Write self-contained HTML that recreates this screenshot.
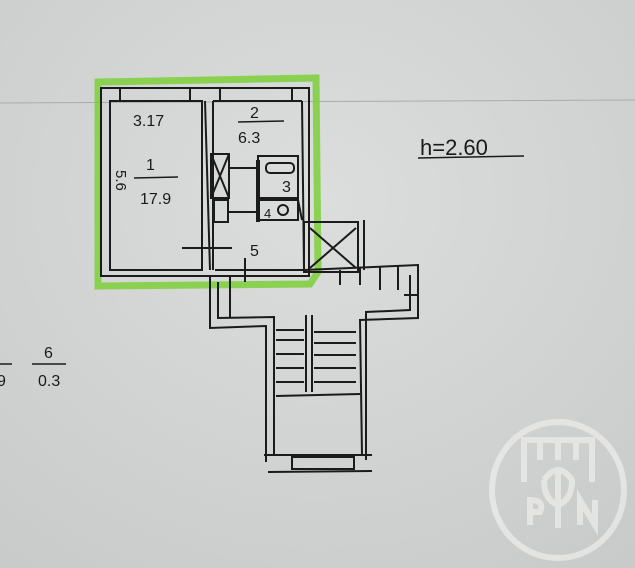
<!DOCTYPE html>
<html><head><meta charset="utf-8"><style>
html,body{margin:0;padding:0;width:635px;height:568px;overflow:hidden;background:#d4d6d6}
svg{display:block}
text{font-family:"Liberation Sans",sans-serif;fill:#1a1a1a}
</style></head><body>
<svg width="635" height="568" viewBox="0 0 635 568">
<defs>
<radialGradient id="bg" cx="0.5" cy="0.35" r="0.8">
<stop offset="0" stop-color="#dcdedd"/><stop offset="1" stop-color="#c9cbcb"/>
</radialGradient>
</defs>
<rect width="635" height="568" fill="url(#bg)"/>
<line x1="0" y1="103" x2="635" y2="100" stroke="#aaa" stroke-width="1"/>
<!-- green outline -->
<path d="M98 82 L316 78 L318 272 L310 284 L98 286 Z" fill="none" stroke="#7ccf3a" stroke-width="7" opacity="0.85"/>
<g fill="none" stroke="#1b1b1b" stroke-width="2">
<!-- outer walls -->
<rect x="101" y="88" width="208" height="188"/>
<rect x="110" y="101" width="92" height="169"/>
<line x1="120" y1="88" x2="120" y2="101"/><line x1="190" y1="88" x2="190" y2="101"/>
<line x1="220" y1="88" x2="220" y2="101"/><line x1="292" y1="88" x2="292" y2="101"/>
<line x1="205" y1="101" x2="210" y2="270"/><line x1="213" y1="101" x2="213" y2="270"/>
<line x1="213" y1="101" x2="302" y2="101"/><line x1="302" y1="101" x2="304" y2="270"/>
<line x1="215" y1="270" x2="304" y2="270"/>
<!-- closets -->
<rect x="211" y="154" width="18" height="44"/><line x1="211" y1="154" x2="229" y2="198"/><line x1="229" y1="154" x2="211" y2="198"/>
<rect x="214" y="200" width="14" height="22"/>
<rect x="258" y="156" width="40" height="42"/><rect x="266" y="163" width="28" height="10" rx="4"/>
<rect x="258" y="200" width="40" height="20"/><circle cx="283" cy="210" r="5"/>
<line x1="298" y1="200" x2="302" y2="220"/>
<line x1="258" y1="160" x2="258" y2="222" stroke-width="4"/>
<line x1="229" y1="168" x2="258" y2="168"/><line x1="229" y1="212" x2="258" y2="212"/>
<line x1="182" y1="248" x2="232" y2="248"/><line x1="245" y1="258" x2="245" y2="282"/>
<!-- shaft -->
<rect x="304" y="222" width="54" height="50"/>
<line x1="310" y1="228" x2="356" y2="268"/><line x1="356" y1="228" x2="310" y2="268"/>
<line x1="364" y1="220" x2="364" y2="270"/>
<!-- corridor -->
<path d="M210 276 L210 328 L266 326 L266 462"/>
<path d="M218 282 L218 318 L274 317 L274 455"/>
<path d="M304 270 L418 265 L418 318 L360 320 L362 455"/>
<path d="M410 275 L410 310 L366 312 L366 460"/>
<line x1="230" y1="276" x2="230" y2="318"/>
<line x1="340" y1="270" x2="340" y2="285"/><line x1="360" y1="268" x2="360" y2="285"/>
<line x1="380" y1="266" x2="380" y2="290"/><line x1="398" y1="266" x2="398" y2="290"/>
<line x1="404" y1="295" x2="418" y2="295"/>
<!-- stairs -->
<line x1="306" y1="315" x2="306" y2="392"/><line x1="312" y1="315" x2="312" y2="392"/>
<line x1="276" y1="330" x2="304" y2="330"/><line x1="314" y1="332" x2="356" y2="332"/>
<line x1="276" y1="340" x2="304" y2="340"/><line x1="314" y1="343" x2="356" y2="343"/>
<line x1="276" y1="354" x2="304" y2="354"/><line x1="314" y1="355" x2="356" y2="355"/>
<line x1="276" y1="368" x2="304" y2="368"/><line x1="314" y1="368" x2="356" y2="368"/>
<line x1="276" y1="382" x2="304" y2="382"/><line x1="314" y1="382" x2="356" y2="382"/>
<line x1="276" y1="396" x2="360" y2="394"/>
<line x1="264" y1="455" x2="372" y2="455"/>
<rect x="292" y="457" width="62" height="12"/>
<line x1="268" y1="472" x2="372" y2="471"/>
</g>
<g font-size="16">
<text x="133" y="126">3.17</text>
<text x="250" y="118">2</text>
<line x1="238" y1="122" x2="284" y2="121" stroke="#1b1b1b" stroke-width="1.5"/>
<text x="238" y="143">6.3</text>
<text x="146" y="170">1</text>
<line x1="134" y1="178" x2="178" y2="177" stroke="#1b1b1b" stroke-width="1.5"/>
<text x="140" y="204">17.9</text>
<text transform="translate(116,170) rotate(90)" font-size="15">5.6</text>
<text x="282" y="192">3</text>
<text x="264" y="218" font-size="13">4</text>
<text x="250" y="256">5</text>
<text x="420" y="155" font-size="22">h=2.60</text>
<line x1="418" y1="158" x2="524" y2="156" stroke="#1b1b1b" stroke-width="1.5"/>
<text x="44" y="358">6</text>
<line x1="32" y1="364" x2="66" y2="364" stroke="#1b1b1b" stroke-width="1.5"/>
<text x="38" y="386">0.3</text>
<text x="-3" y="386">9</text>
<line x1="0" y1="364" x2="12" y2="364" stroke="#1b1b1b" stroke-width="1.5"/>
</g>
<!-- watermark -->
<g fill="none" stroke="#ecece9" stroke-width="6" opacity="0.75">
<ellipse cx="558" cy="490" rx="66" ry="68"/>
<path d="M524 482 L524 440 L592 440 L592 482 M540 440 L540 460 M576 440 L576 460 M558 440 L558 460"/>
<path d="M558 470 L558 528 M544 480 Q558 460 572 480 Q572 500 558 505 Q544 500 544 480"/>
<path d="M530 525 L530 500 Q545 500 540 512 L530 512 M580 525 L580 500 L595 525 L595 500"/>
</g>
</svg>
</body></html>
